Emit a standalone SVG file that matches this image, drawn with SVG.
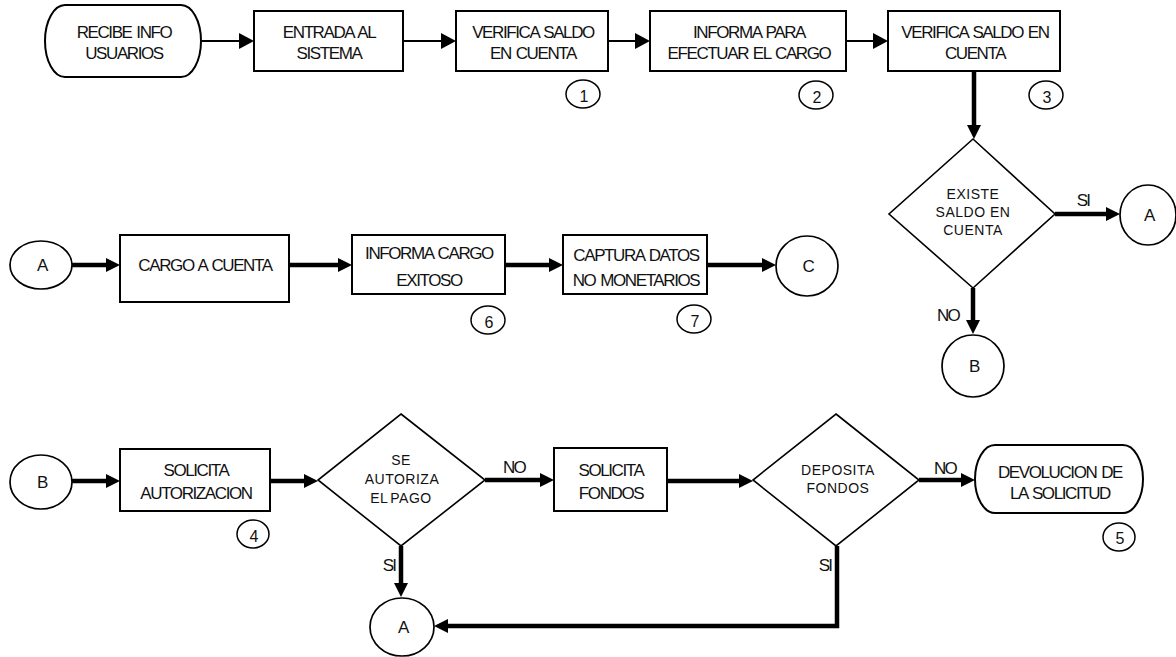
<svg xmlns="http://www.w3.org/2000/svg" width="1176" height="657" viewBox="0 0 1176 657">
  <style>
    .shape { fill: #ffffff; stroke: #000000; stroke-width: 2; }
    .dia { fill: #ffffff; stroke: #000000; stroke-width: 1.6; }
    .circ { fill: #ffffff; stroke: #000000; stroke-width: 1.7; }
    .num { fill: none; stroke: #000000; stroke-width: 1.5; }
    .t { font-family: "Liberation Sans", Arial, sans-serif; font-size: 17px; letter-spacing: -1.4px; word-spacing: 1.5px; text-anchor: middle; fill: #111111; }
    .d { font-family: "Liberation Sans", Arial, sans-serif; font-size: 14px; letter-spacing: 0.5px; text-anchor: middle; fill: #111111; }
    .n { font-family: "Liberation Sans", Arial, sans-serif; font-size: 16px; text-anchor: middle; fill: #111111; }
    .lbl { font-family: "Liberation Sans", Arial, sans-serif; font-size: 17px; letter-spacing: -1.8px; text-anchor: middle; fill: #111111; }
    .thin { fill: none; stroke: #000000; stroke-width: 2; marker-end: url(#ah); }
    .thick { fill: none; stroke: #000000; stroke-width: 4.5; marker-end: url(#ahk); }
  </style>
  <defs>
    <marker id="ah" viewBox="0 0 15 16" markerWidth="15" markerHeight="16" refX="7" refY="8" orient="auto" markerUnits="userSpaceOnUse">
      <path d="M0,0 L15,8 L0,16 z" fill="#000000"/>
    </marker>
    <marker id="ahk" viewBox="0 0 14 14" markerWidth="14" markerHeight="14" refX="6" refY="7" orient="auto" markerUnits="userSpaceOnUse">
      <path d="M0,0 L14,7 L0,14 z" fill="#000000"/>
    </marker>
  </defs>

  <!-- connectors -->
  <g id="connectors">
    <line class="thin" x1="201" y1="41" x2="246" y2="41"/>
    <line class="thin" x1="403" y1="41" x2="448" y2="41"/>
    <line class="thin" x1="608" y1="41" x2="642" y2="41"/>
    <line class="thin" x1="846" y1="41" x2="880" y2="41"/>
    <line class="thick" x1="974" y1="71" x2="974" y2="131"/>
    <line class="thick" x1="1055" y1="214" x2="1112" y2="214"/>
    <line class="thick" x1="973" y1="288" x2="973" y2="326"/>

    <line class="thick" x1="72" y1="265" x2="112" y2="265"/>
    <line class="thick" x1="289" y1="265" x2="344" y2="265"/>
    <line class="thick" x1="505" y1="265" x2="555" y2="265"/>
    <line class="thick" x1="707" y1="265" x2="768" y2="265"/>

    <line class="thick" x1="72" y1="481" x2="112" y2="481"/>
    <line class="thick" x1="270" y1="481" x2="310" y2="481"/>
    <line class="thick" x1="485" y1="480" x2="546" y2="480"/>
    <line class="thick" x1="667" y1="481" x2="745" y2="481"/>
    <line class="thick" x1="919" y1="480" x2="967" y2="480"/>
    <line class="thick" x1="401" y1="546" x2="401" y2="589"/>
    <polyline class="thick" points="837,546 837,626 442,626"/>
  </g>

  <!-- top row -->
  <g id="recibe">
    <rect class="shape" x="45" y="5" width="156" height="72" rx="20" ry="36"/>
    <text class="t" x="124" y="38">RECIBE INFO</text>
    <text class="t" x="124" y="59">USUARIOS</text>
  </g>
  <g id="entrada">
    <rect class="shape" x="254" y="11" width="149" height="60"/>
    <text class="t" x="329" y="38">ENTRADA AL</text>
    <text class="t" x="329" y="59">SISTEMA</text>
  </g>
  <g id="verifica1">
    <rect class="shape" x="456" y="11" width="152" height="60"/>
    <text class="t" x="533" y="38">VERIFICA SALDO</text>
    <text class="t" x="533" y="59">EN CUENTA</text>
  </g>
  <g id="informa">
    <rect class="shape" x="650" y="11" width="196" height="60"/>
    <text class="t" x="749" y="38">INFORMA PARA</text>
    <text class="t" x="749" y="59">EFECTUAR EL CARGO</text>
  </g>
  <g id="verifica2">
    <rect class="shape" x="888" y="11" width="172" height="60"/>
    <text class="t" x="975" y="38">VERIFICA SALDO EN</text>
    <text class="t" x="975" y="59">CUENTA</text>
  </g>
  <g id="n1"><ellipse class="num" cx="583" cy="94" rx="17" ry="14"/><text class="n" x="584" y="102">1</text></g>
  <g id="n2"><ellipse class="num" cx="816" cy="95" rx="17" ry="14"/><text class="n" x="817" y="103">2</text></g>
  <g id="n3"><ellipse class="num" cx="1046" cy="95" rx="17" ry="14"/><text class="n" x="1047" y="103">3</text></g>

  <!-- balance decision -->
  <g id="existe">
    <polygon class="dia" points="973,139 1055,214 973,288 889,214"/>
    <text class="d" x="973" y="199">EXISTE</text>
    <text class="d" x="973" y="217">SALDO EN</text>
    <text class="d" x="973" y="235">CUENTA</text>
  </g>
  <text class="lbl" x="1083" y="206">SI</text>
  <text class="lbl" x="948" y="321">NO</text>
  <g id="a-right">
    <ellipse class="circ" cx="1148" cy="215" rx="28" ry="30"/>
    <text class="t" x="1149" y="221">A</text>
  </g>
  <g id="b-right">
    <ellipse class="circ" cx="973" cy="366" rx="31" ry="31"/>
    <text class="t" x="974" y="372">B</text>
  </g>

  <!-- middle row -->
  <g id="a-left">
    <ellipse class="circ" cx="41" cy="265" rx="31" ry="24"/>
    <text class="t" x="42" y="271">A</text>
  </g>
  <g id="cargo">
    <rect class="shape" x="120" y="235" width="169" height="67"/>
    <text class="t" x="205" y="271">CARGO A CUENTA</text>
  </g>
  <g id="exitoso">
    <rect class="shape" x="352" y="235" width="153" height="59"/>
    <text class="t" x="429" y="259">INFORMA CARGO</text>
    <text class="t" x="429" y="286">EXITOSO</text>
  </g>
  <g id="captura">
    <rect class="shape" x="563" y="235" width="144" height="59"/>
    <text class="t" x="636" y="261">CAPTURA DATOS</text>
    <text class="t" x="636" y="286">NO MONETARIOS</text>
  </g>
  <g id="c-node">
    <ellipse class="circ" cx="807" cy="266" rx="31" ry="30"/>
    <text class="t" x="808" y="272">C</text>
  </g>
  <g id="n6"><ellipse class="num" cx="488" cy="320" rx="17" ry="14"/><text class="n" x="489" y="328">6</text></g>
  <g id="n7"><ellipse class="num" cx="694" cy="319" rx="17" ry="14"/><text class="n" x="695" y="327">7</text></g>

  <!-- bottom row -->
  <g id="b-left">
    <ellipse class="circ" cx="41" cy="482" rx="31" ry="27"/>
    <text class="t" x="42" y="488">B</text>
  </g>
  <g id="autorizacion">
    <rect class="shape" x="120" y="449" width="150" height="62"/>
    <text class="t" x="196" y="476">SOLICITA</text>
    <text class="t" x="196" y="499">AUTORIZACION</text>
  </g>
  <g id="n4"><ellipse class="num" cx="253" cy="534" rx="16" ry="14"/><text class="n" x="254" y="542">4</text></g>
  <g id="autoriza-pago">
    <polygon class="dia" points="401,414 485,480 401,546 318,480"/>
    <text class="d" x="401" y="465">SE</text>
    <text class="d" x="402" y="484">AUTORIZA</text>
    <text class="d" x="401" y="503" word-spacing="-2">EL PAGO</text>
  </g>
  <text class="lbl" x="514" y="473">NO</text>
  <text class="lbl" x="389" y="571">SI</text>
  <g id="fondos">
    <rect class="shape" x="554" y="448" width="113" height="63"/>
    <text class="t" x="611" y="476">SOLICITA</text>
    <text class="t" x="611" y="499">FONDOS</text>
  </g>
  <g id="deposita">
    <polygon class="dia" points="836,414 919,480 836,546 753,480"/>
    <text class="d" x="838" y="475">DEPOSITA</text>
    <text class="d" x="838" y="493">FONDOS</text>
  </g>
  <text class="lbl" x="945" y="474">NO</text>
  <text class="lbl" x="825" y="571">SI</text>
  <g id="devolucion">
    <rect class="shape" x="975" y="445" width="168" height="68" rx="20" ry="34"/>
    <text class="t" x="1060" y="478" word-spacing="-2">DEVOLUCION DE</text>
    <text class="t" x="1060" y="499">LA SOLICITUD</text>
  </g>
  <g id="n5"><ellipse class="num" cx="1119" cy="537" rx="16" ry="14"/><text class="n" x="1120" y="544">5</text></g>
  <g id="a-bottom">
    <ellipse class="circ" cx="402" cy="627" rx="32" ry="29"/>
    <text class="t" x="403" y="633">A</text>
  </g>
</svg>
